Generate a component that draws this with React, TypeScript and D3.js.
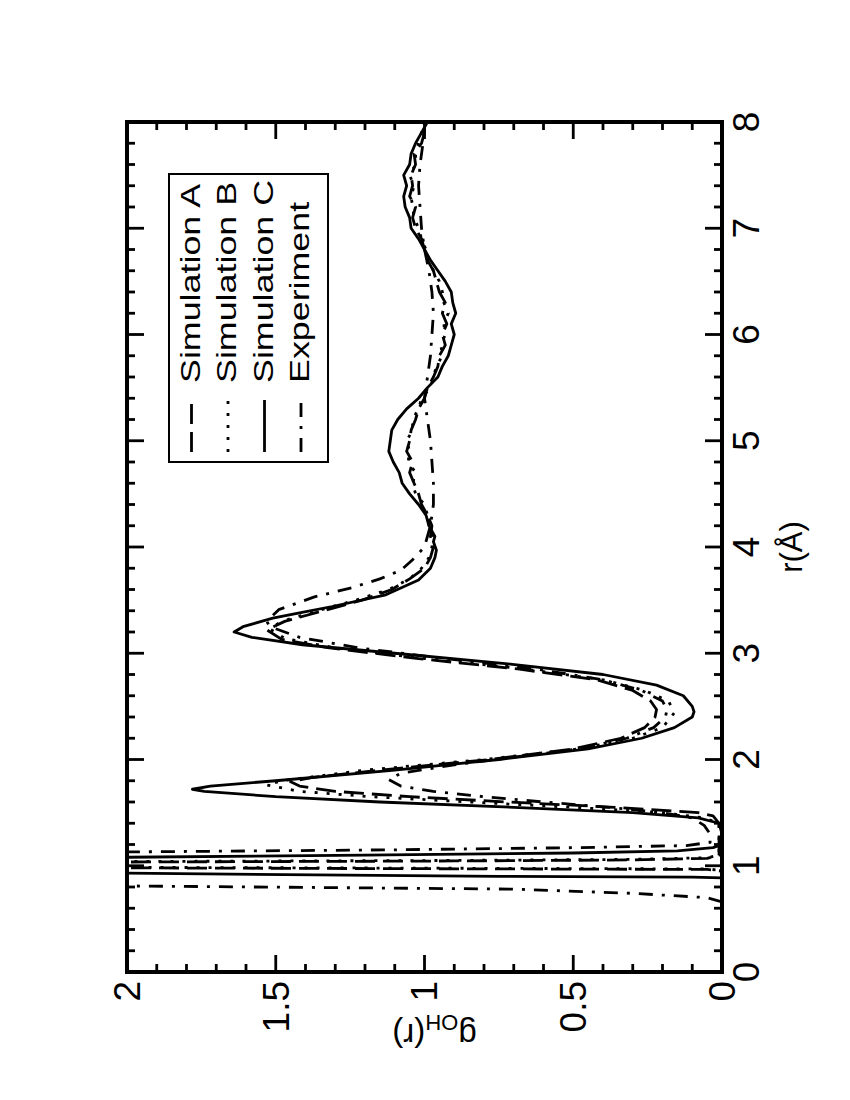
import React from 'react';
import * as d3 from 'd3';

// g_OH(r) curves (r in Å)
const simARadius = [0, 0.95, 0.965, 0.98, 1.0, 1.035, 1.045, 1.055, 1.07, 1.1, 1.4, 1.47, 1.5, 1.55, 1.6, 1.65, 1.7, 1.75, 1.79, 1.83, 1.9, 2.0, 2.1, 2.2, 2.3, 2.4, 2.47, 2.55, 2.65, 2.75, 2.85, 2.95, 3.05, 3.13, 3.22, 3.3, 3.4, 3.5, 3.6, 3.7, 3.8, 3.9, 4.0, 4.1, 4.2, 4.3, 4.4, 4.5, 4.6, 4.7, 4.8, 4.9, 5.0, 5.1, 5.2, 5.3, 5.4, 5.5, 5.6, 5.7, 5.8, 5.9, 6.0, 6.1, 6.2, 6.3, 6.4, 6.5, 6.6, 6.7, 6.8, 6.9, 7.0, 7.1, 7.2, 7.3, 7.4, 7.5, 7.6, 7.7, 7.8, 7.9, 8.0];
const simAValue = [0, 0, 0.05, 2.0, 6.0, 2.0, 0.9, 0.3, 0.05, 0.01, 0.01, 0.03, 0.08, 0.36, 0.72, 1.05, 1.3, 1.42, 1.45, 1.38, 1.15, 0.78, 0.5, 0.34, 0.26, 0.225, 0.22, 0.24, 0.3, 0.42, 0.68, 1.02, 1.32, 1.48, 1.53, 1.47, 1.34, 1.21, 1.11, 1.05, 1.0, 0.98, 0.97, 0.98, 0.975, 0.99, 1.01, 1.02, 1.035, 1.05, 1.04, 1.06, 1.05, 1.045, 1.03, 1.02, 1.0, 0.99, 0.97, 0.955, 0.95, 0.93, 0.94, 0.925, 0.94, 0.93, 0.95, 0.96, 0.97, 0.99, 1.0, 1.01, 1.03, 1.04, 1.03, 1.05, 1.04, 1.045, 1.03, 1.035, 1.01, 1.0, 1.0];

const simBRadius = [0, 0.955, 0.97, 0.985, 1.0, 1.04, 1.05, 1.06, 1.075, 1.1, 1.4, 1.45, 1.5, 1.55, 1.6, 1.65, 1.7, 1.76, 1.8, 1.9, 2.0, 2.1, 2.2, 2.3, 2.44, 2.55, 2.65, 2.75, 2.85, 2.95, 3.05, 3.14, 3.23, 3.3, 3.4, 3.5, 3.6, 3.7, 3.8, 3.9, 4.0, 4.1, 4.2, 4.3, 4.4, 4.5, 4.6, 4.7, 4.8, 4.9, 5.0, 5.1, 5.2, 5.3, 5.4, 5.5, 5.6, 5.7, 5.8, 5.9, 6.0, 6.1, 6.2, 6.3, 6.4, 6.5, 6.6, 6.7, 6.8, 6.9, 7.0, 7.1, 7.2, 7.3, 7.4, 7.5, 7.6, 7.7, 7.8, 7.9, 8.0];
const simBValue = [0, 0, 0.05, 2.0, 6.0, 2.0, 0.9, 0.3, 0.05, 0.01, 0.01, 0.06, 0.2, 0.5, 0.85, 1.18, 1.42, 1.53, 1.48, 1.2, 0.8, 0.48, 0.3, 0.2, 0.16, 0.18, 0.26, 0.4, 0.66, 1.0, 1.3, 1.47, 1.52, 1.48, 1.36, 1.23, 1.12, 1.05, 1.01, 0.985, 0.975, 0.97, 0.985, 0.99, 1.0, 1.03, 1.04, 1.03, 1.055, 1.05, 1.06, 1.04, 1.04, 1.02, 1.01, 0.98, 0.97, 0.96, 0.94, 0.945, 0.93, 0.935, 0.92, 0.935, 0.94, 0.95, 0.97, 0.985, 0.995, 1.01, 1.02, 1.035, 1.04, 1.045, 1.035, 1.05, 1.03, 1.03, 1.02, 1.01, 0.995];

const simCRadius = [0, 0.885, 0.893, 0.9, 0.93, 0.97, 1.0, 1.04, 1.08, 1.1, 1.12, 1.14, 1.17, 1.2, 1.3, 1.4, 1.45, 1.5, 1.55, 1.6, 1.65, 1.7, 1.72, 1.75, 1.8, 1.9, 2.0, 2.1, 2.2, 2.3, 2.4, 2.45, 2.5, 2.6, 2.7, 2.8, 2.9, 3.0, 3.08, 3.15, 3.2, 3.25, 3.33, 3.38, 3.44, 3.55, 3.69, 3.8, 3.9, 3.97, 4.05, 4.1, 4.2, 4.3, 4.4, 4.5, 4.6, 4.7, 4.8, 4.9, 5.0, 5.1, 5.2, 5.3, 5.4, 5.5, 5.6, 5.7, 5.8, 5.9, 6.0, 6.1, 6.2, 6.3, 6.4, 6.5, 6.6, 6.7, 6.8, 6.9, 7.0, 7.1, 7.2, 7.3, 7.4, 7.5, 7.6, 7.7, 7.8, 7.9, 8.0];
const simCValue = [0, 0, 0.1, 0.75, 2.0, 6.0, 8.0, 5.0, 2.0, 1.2, 0.5, 0.15, 0.03, 0.0, 0.0, 0.01, 0.08, 0.3, 0.7, 1.15, 1.5, 1.74, 1.78, 1.72, 1.5, 1.1, 0.75, 0.45, 0.27, 0.16, 0.1, 0.094, 0.1, 0.13, 0.22, 0.4, 0.72, 1.1, 1.41, 1.58, 1.64, 1.61, 1.51, 1.42, 1.31, 1.13, 1.02, 0.98, 0.965, 0.96, 0.97, 0.965, 0.985, 0.995, 1.02, 1.05, 1.075, 1.085, 1.105, 1.12, 1.115, 1.11, 1.09, 1.06, 1.02, 0.99, 0.955, 0.94, 0.92, 0.91, 0.9, 0.91, 0.895, 0.905, 0.91, 0.93, 0.955, 0.98, 1.0, 1.02, 1.045, 1.05, 1.065, 1.07, 1.06, 1.07, 1.05, 1.045, 1.03, 1.01, 0.99];

const expRadius = [0, 0.66, 0.7, 0.74, 0.78, 0.81, 0.85, 0.97, 1.1, 1.13, 1.15, 1.17, 1.19, 1.22, 1.3, 1.38, 1.45, 1.5, 1.55, 1.6, 1.65, 1.7, 1.75, 1.81, 1.87, 1.95, 2.0, 2.1, 2.2, 2.3, 2.4, 2.47, 2.55, 2.65, 2.75, 2.85, 2.95, 3.05, 3.15, 3.25, 3.3, 3.41, 3.53, 3.62, 3.7, 3.78, 3.88, 4.0, 4.2, 4.4, 4.6, 4.8, 5.0, 5.2, 5.4, 5.6, 5.8, 6.0, 6.2, 6.4, 6.6, 6.8, 7.0, 7.2, 7.4, 7.6, 7.8, 8.0];
const expValue = [0, 0, 0.05, 0.3, 0.7, 2.0, 4.0, 8.0, 3.0, 2.0, 1.1, 0.5, 0.12, 0.04, 0.04, 0.06, 0.1, 0.2, 0.38, 0.6, 0.8, 0.97, 1.08, 1.12, 1.08, 0.9, 0.76, 0.48, 0.32, 0.23, 0.19, 0.185, 0.2, 0.27, 0.4, 0.62, 0.93, 1.22, 1.42, 1.52, 1.53, 1.49, 1.37, 1.24, 1.15, 1.08, 1.04, 1.0, 0.98, 0.97, 0.97, 0.975, 0.98, 0.99, 1.0, 0.99, 0.98, 0.975, 0.97, 0.975, 0.985, 1.0, 1.01, 1.015, 1.02, 1.015, 1.005, 1.0];

const seriesNames = ['Simulation A', 'Simulation B', 'Simulation C', 'Experiment'];
const seriesDash = ['20,8', '3,9', 'none', '14,9,3,9'];
const seriesRadius = [simARadius, simBRadius, simCRadius, expRadius];
const seriesValue = [simAValue, simBValue, simCValue, expValue];

// the figure is a landscape plot turned 90° counter-clockwise onto the page
const plotW = 850;
const plotH = 595;
const originX = 127;
const originY = 972;
const font = '"Liberation Sans", Arial, Helvetica, sans-serif';

export default function App() {
  const x = d3.scaleLinear().domain([0, 8]).range([0, plotW]);
  const y = d3.scaleLinear().domain([0, 2]).range([plotH, 0]);

  const line = d3
    .line<[number, number]>()
    .x((d) => x(d[0]))
    .y((d) => y(d[1]));

  const xMajor = x.ticks(8);
  const xMinor = x.ticks(40).filter((t) => !xMajor.some((m) => Math.abs(m - t) < 1e-9));
  const yMajor = y.ticks(4);
  const yMinor = y.ticks(20).filter((t) => !yMajor.some((m) => Math.abs(m - t) < 1e-9));

  const majorLen = 17;
  const minorLen = 8;

  const legendX = 510;
  const legendY = 42;
  const legendW = 288;
  const legendH = 159;

  return (
    <svg
      width={850}
      height={1100}
      style={{ position: 'absolute', left: 0, top: 0, background: '#fff' }}
      fontFamily={font}
    >
      <defs>
        <clipPath id="plot-clip">
          <rect x={0} y={0} width={plotW} height={plotH} />
        </clipPath>
      </defs>
      <g transform={`translate(${originX},${originY}) rotate(-90)`}>
        {/* curves */}
        <g clipPath="url(#plot-clip)">
          {seriesNames.map((name, i) => (
            <path
              key={name}
              d={line(seriesRadius[i].map((r, k) => [r, seriesValue[i][k]] as [number, number])) || ''}
              fill="none"
              stroke="#000"
              strokeWidth={2.8}
              strokeDasharray={seriesDash[i]}
              strokeLinejoin="round"
            />
          ))}
        </g>

        {/* ticks, pointing inward on all four sides */}
        <g stroke="#000" strokeWidth={2.8}>
          {xMajor.map((t) => (
            <g key={'xM' + t}>
              <line x1={x(t)} x2={x(t)} y1={plotH} y2={plotH - majorLen} />
              <line x1={x(t)} x2={x(t)} y1={0} y2={majorLen} />
            </g>
          ))}
          {xMinor.map((t) => (
            <g key={'xm' + t}>
              <line x1={x(t)} x2={x(t)} y1={plotH} y2={plotH - minorLen} />
              <line x1={x(t)} x2={x(t)} y1={0} y2={minorLen} />
            </g>
          ))}
          {yMajor.map((t) => (
            <g key={'yM' + t}>
              <line x1={0} x2={majorLen} y1={y(t)} y2={y(t)} />
              <line x1={plotW} x2={plotW - majorLen} y1={y(t)} y2={y(t)} />
            </g>
          ))}
          {yMinor.map((t) => (
            <g key={'ym' + t}>
              <line x1={0} x2={minorLen} y1={y(t)} y2={y(t)} />
              <line x1={plotW} x2={plotW - minorLen} y1={y(t)} y2={y(t)} />
            </g>
          ))}
        </g>

        <rect x={0} y={0} width={plotW} height={plotH} fill="none" stroke="#000" strokeWidth={4} />

        {/* tick labels */}
        {xMajor.map((t) => (
          <text key={'xl' + t} x={x(t)} y={plotH + 37} fontSize={37} textAnchor="middle">
            {t}
          </text>
        ))}
        {yMajor.map((t) => (
          <text key={'yl' + t} x={-9} y={y(t)} dy="0.35em" fontSize={37} textAnchor="end">
            {t}
          </text>
        ))}

        {/* axis titles */}
        <text x={plotW / 2} y={plotH + 80} fontSize={31} textAnchor="middle">
          r(Å)
        </text>
        <text
          transform={`translate(-52,${plotH / 2 + 10}) rotate(-90)`}
          fontSize={33}
          textAnchor="middle"
        >
          g<tspan fontSize={22} dy={9}>OH</tspan>
          <tspan dy={-9}>(r)</tspan>
        </text>

        {/* legend */}
        <rect x={legendX} y={legendY} width={legendW} height={legendH} fill="#fff" stroke="#000" strokeWidth={2} />
        {seriesNames.map((name, i) => {
          const ly = legendY + 22.5 + i * 36.5;
          return (
            <g key={'lg' + name}>
              <line
                x1={legendX + 10}
                x2={legendX + 62}
                y1={ly}
                y2={ly}
                stroke="#000"
                strokeWidth={2.8}
                strokeDasharray={seriesDash[i]}
              />
              <text transform={`translate(${legendX + 79},${ly + 8}) scale(1.28,1)`} fontSize={28}>
                {name}
              </text>
            </g>
          );
        })}
      </g>
    </svg>
  );
}
